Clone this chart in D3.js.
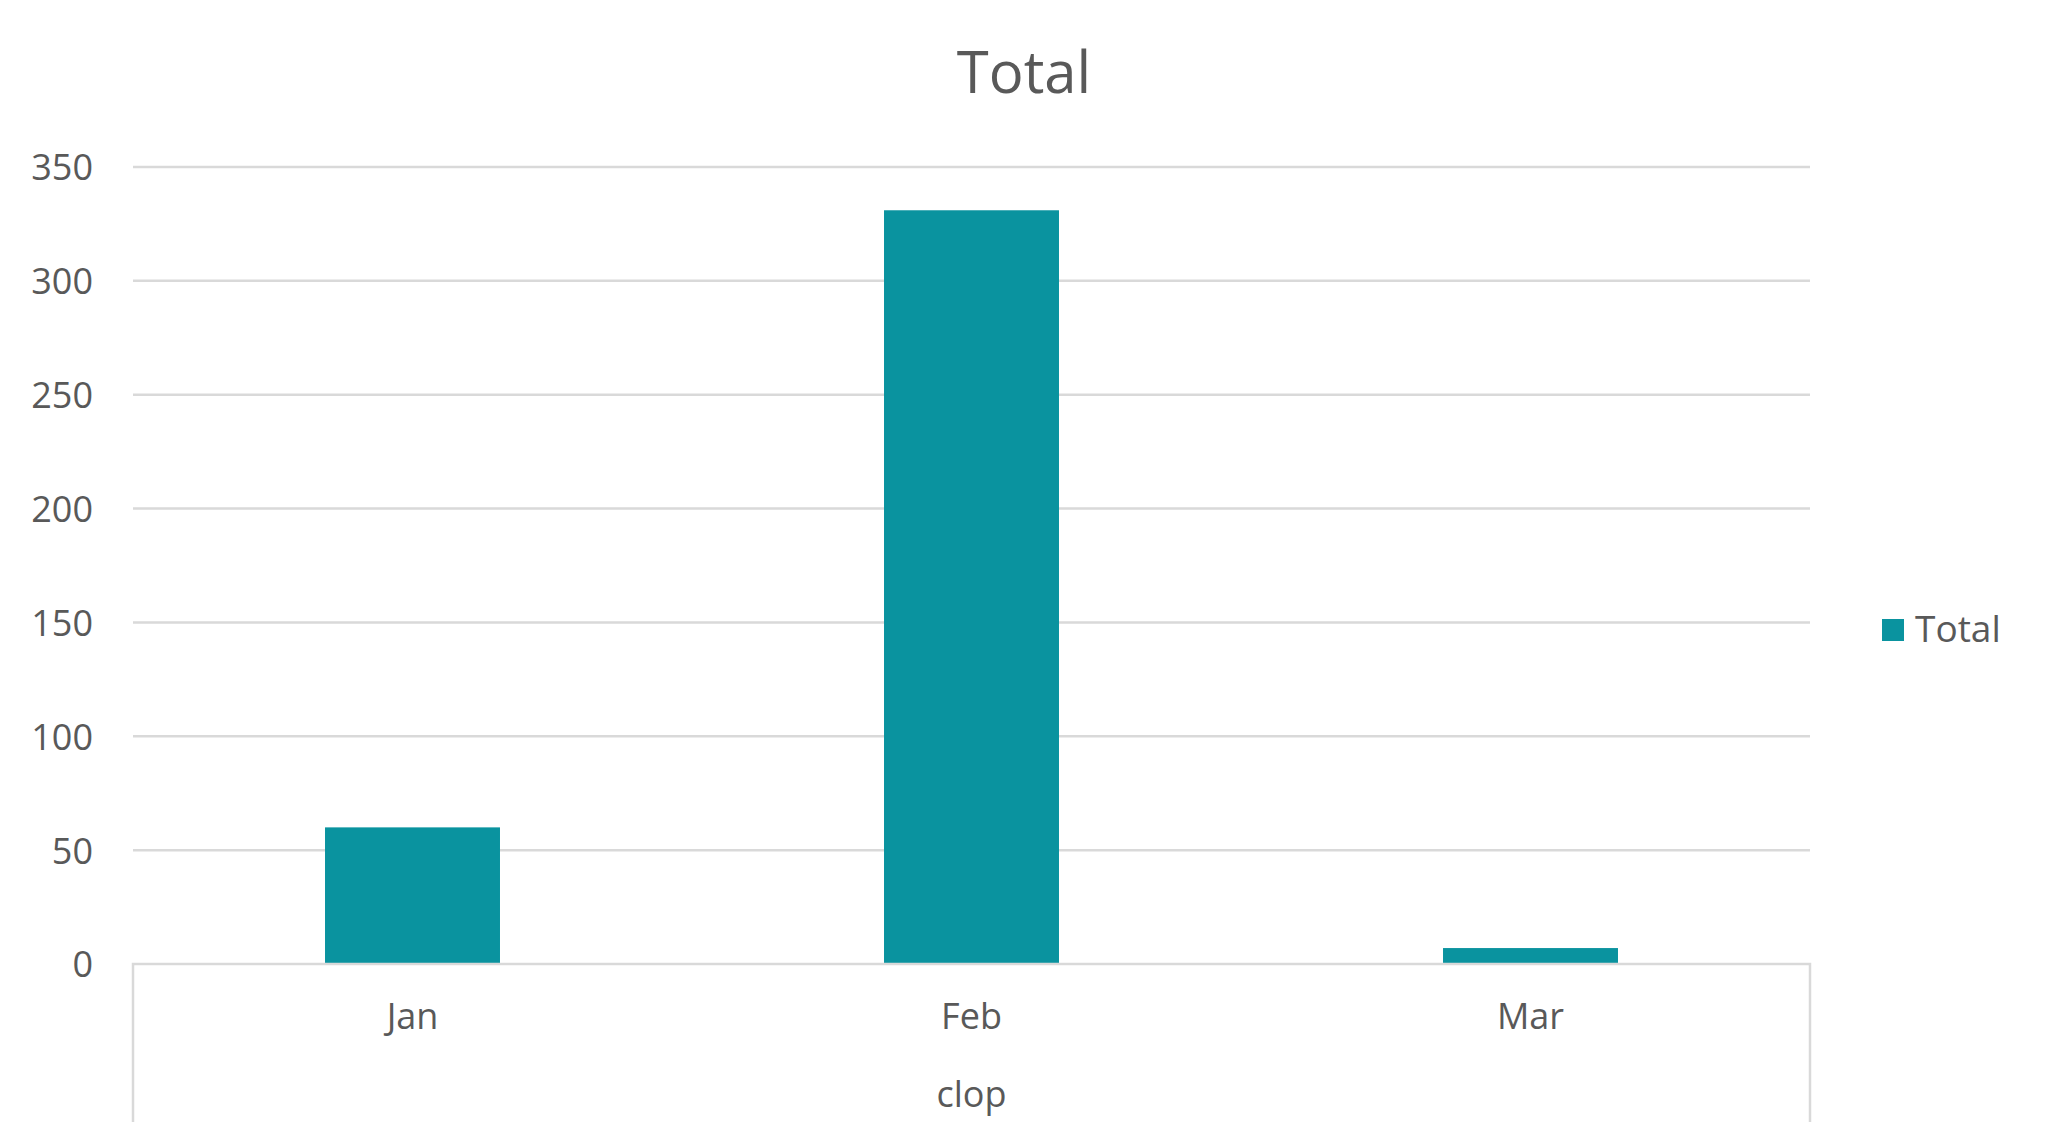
<!DOCTYPE html>
<html>
<head>
<meta charset="utf-8">
<script src="https://cdnjs.cloudflare.com/ajax/libs/d3/7.8.5/d3.min.js"></script>
<style>
  body { margin: 0; background: #fff; }
  text { font-family: "Open Sans", "Liberation Sans", sans-serif; fill: #595959; }
</style>
</head>
<body>
<div id="chart"></div>
<script>
var categories = ["Jan", "Feb", "Mar"];
var totals = [60, 331, 7];
var yTicks = [0, 50, 100, 150, 200, 250, 300, 350];
var seriesName = "Total";
var axisTitle = "clop";

var width = 2048, height = 1144;
var margin = {top: 167, right: 238, bottom: 180, left: 133};
var barColor = "#0a939f";
var gridColor = "#d9d9d9";

var svg = d3.select("#chart").append("svg")
  .attr("width", width)
  .attr("height", height);

var x = d3.scaleBand()
  .domain(categories)
  .range([margin.left, width - margin.right])
  .paddingInner(0.687)
  .paddingOuter(0.3435);

var y = d3.scaleLinear()
  .domain([0, 350])
  .range([height - margin.bottom, margin.top]);

// gridlines
svg.append("g")
  .selectAll("line")
  .data(yTicks.filter(d => d > 0))
  .enter().append("line")
  .attr("x1", margin.left)
  .attr("x2", width - margin.right)
  .attr("y1", d => y(d))
  .attr("y2", d => y(d))
  .attr("stroke", gridColor)
  .attr("stroke-width", 2.5);

// y labels
var yAxis = d3.axisLeft(y).tickValues(yTicks).tickSize(0).tickPadding(40);
var gy = svg.append("g")
  .attr("transform", "translate(" + margin.left + ",0)")
  .call(yAxis);
gy.select(".domain").remove();
gy.selectAll("text")
  .style("font-size", "36px")
  .attr("fill", "#595959")
  .attr("dy", "0.36em");

// bars
svg.append("g")
  .selectAll("rect")
  .data(categories.map((c, i) => ({cat: c, value: totals[i]})))
  .enter().append("rect")
  .attr("x", d => x(d.cat))
  .attr("width", x.bandwidth())
  .attr("y", d => y(d.value))
  .attr("height", d => y(0) - y(d.value))
  .attr("fill", barColor);

// category axis box
var y0 = y(0);
var boxBottom = 1122;
svg.append("path")
  .attr("d", "M" + margin.left + "," + boxBottom + "V" + y0 + "H" + (width - margin.right) + "V" + boxBottom)
  .attr("fill", "none")
  .attr("stroke", gridColor)
  .attr("stroke-width", 2.5);

var xAxis = d3.axisBottom(x).tickSize(0).tickPadding(39);
var gx = svg.append("g")
  .attr("transform", "translate(0," + y0 + ")")
  .call(xAxis);
gx.select(".domain").remove();
gx.selectAll("text")
  .style("font-size", "36px")
  .attr("fill", "#595959");

svg.append("text")
  .attr("x", (margin.left + width - margin.right) / 2)
  .attr("y", 1107)
  .attr("text-anchor", "middle")
  .style("font-size", "36px")
  .text(axisTitle);

// title
svg.append("text")
  .attr("x", width / 2)
  .attr("y", 93)
  .attr("text-anchor", "middle")
  .style("font-size", "58px")
  .text(seriesName);

// legend
var legend = svg.append("g").attr("transform", "translate(1882,619)");
legend.append("rect")
  .attr("width", 22)
  .attr("height", 22)
  .attr("fill", barColor);
legend.append("text")
  .attr("x", 33)
  .attr("y", 23)
  .style("font-size", "37px")
  .text(seriesName);
</script>
</body>
</html>
